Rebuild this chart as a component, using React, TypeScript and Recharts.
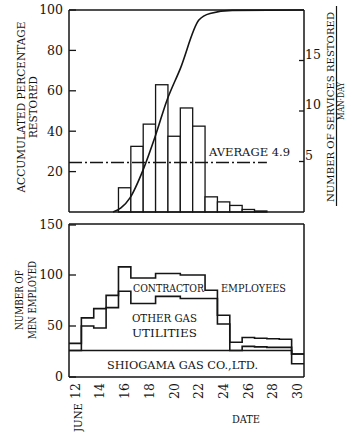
import React from 'react';
import { ComposedChart, Line, Bar, XAxis, YAxis, ReferenceLine } from 'recharts';

// June dates, one step per day on the bottom panel
const days = [12, 13, 14, 15, 16, 17, 18, 19, 20, 21, 22, 23, 24, 25, 26, 27, 28, 29, 30];
const dateTicks = [12, 14, 16, 18, 20, 22, 24, 26, 28, 30];

// number of services restored per man-day (bars, right axis)
const barDays = [16, 17, 18, 19, 20, 21, 22, 23, 24, 25, 26, 27];
const servicesPerManDay = [2.4, 6.5, 8.7, 12.6, 7.5, 10.3, 8.5, 1.5, 1.0, 0.65, 0.25, 0.1];
const averageRate = 4.9;

// accumulated percentage restored (curve, left axis)
const curveDates = [15.06, 15.7, 16.43, 17.5, 18.5, 19.4, 20.5, 22.0, 22.9, 24.7, 30.5];
const curvePct = [0, 2, 7, 21, 38, 55, 71, 95, 98.3, 99.8, 100];

// men employed: upper edge of each stacked band
const shiogama = [26, 26, 26, 26, 26, 26, 26, 26, 26, 26, 26, 26, 26, 26, 26, 26, 26, 26, 13];
const plusOtherGas = [26, 50, 48, 68, 84, 72, 72, 79, 79, 77, 77, 77, 52, 26, 30, 29.5, 29, 29, 22.6];
const plusContractors = [33, 58, 67, 80, 108, 97, 97, 101.5, 101.5, 100, 100, 85, 60.6, 34, 38.7, 38, 37.5, 37, 22.6];

const X_DOMAIN: [number, number] = [11.5, 30.5];
const PLOT_W = 235;
const dayWidth = PLOT_W / (X_DOMAIN[1] - X_DOMAIN[0]);

const INK = '#151515';
const label = { fontFamily: 'DejaVu Serif', fontSize: 11.5, fill: INK } as const;
const digits = { fontFamily: 'DejaVu Serif', fontSize: 12.5, fill: INK } as const;

const barRows = barDays.map((d, i) => ({ x: d, n: servicesPerManDay[i] }));
const curveRows = curveDates.map((d, i) => ({ x: d, pct: curvePct[i] }));

// step lines start at the left edge of each day; repeat the last day to close it
const menRows = days.map((d, i) => ({
  x: d - 0.5,
  shio: shiogama[i],
  other: plusOtherGas[i],
  contr: plusContractors[i],
}));
menRows.push({ ...menRows[menRows.length - 1], x: days[days.length - 1] + 0.5 });

const LeftTick = ({ x, y, payload }: any) => (
  <g>
    <line x1={x} y1={y} x2={x + 7} y2={y} stroke={INK} strokeWidth={1.3} />
    <text x={x - 6} y={y} dy="0.35em" textAnchor="end" style={digits}>{payload.value}</text>
  </g>
);

const RightTick = ({ x, y, payload }: any) => (
  <g>
    <line x1={x} y1={y} x2={x - 5} y2={y} stroke={INK} strokeWidth={1.3} />
    {payload.value === 0 ? (
      <text x={x + 14} y={y} dy="0.35em" style={digits}>0</text>
    ) : (
      <text x={x + 1} y={y - 6} dy="0.35em" style={digits}>{payload.value}</text>
    )}
  </g>
);

const DateTick = ({ x, y, payload }: any) => (
  <text x={x} y={y} dy="0.35em" textAnchor="end" transform={`rotate(-90, ${x}, ${y})`} style={digits}>
    {payload.value}
  </text>
);

// bars drawn a full day wide, centred where the library puts them
const DayBar = (p: any) => (
  <rect x={p.x + p.width / 2 - dayWidth / 2} y={p.y} width={dayWidth} height={Math.max(p.height, 0)}
    fill="#fff" stroke={INK} strokeWidth={1.3} />
);

// typewriter-style note stretched to the width it has in the original
const Note = ({ x, y, w, children, size = 11.5, vertical = false, anchor = 'start' }: any) => (
  <text x={x} y={y} dy={vertical ? '0.35em' : undefined} textAnchor={anchor}
    transform={vertical ? `rotate(-90, ${x}, ${y})` : undefined}
    textLength={w} lengthAdjust="spacingAndGlyphs" style={{ ...label, fontSize: size }}>
    {children}
  </text>
);

const frame = { stroke: INK, strokeWidth: 1.5, ifOverflow: 'visible' as const };

export default function App() {
  return (
    <div style={{ position: 'absolute', left: 0, top: 0, width: 346, height: 432, background: '#fff' }}>
      <div style={{ position: 'absolute', left: 0, top: 0 }}>
        <ComposedChart width={346} height={216} data={barRows} margin={{ top: 10, right: 0, bottom: 4, left: 0 }}>
          <XAxis dataKey="x" type="number" domain={X_DOMAIN} allowDataOverflow hide />
          <YAxis yAxisId="left" width={69} domain={[0, 100]} ticks={[0, 20, 40, 60, 80, 100]}
            axisLine={false} tickLine={false} tickSize={0} tickMargin={0} tick={<LeftTick />} />
          <YAxis yAxisId="right" orientation="right" width={42} domain={[0, 20]} ticks={[0, 5, 10, 15]}
            axisLine={false} tickLine={false} tickSize={0} tickMargin={0} tick={<RightTick />} />
          <Bar yAxisId="right" dataKey="n" shape={<DayBar />} isAnimationActive={false} />
          <ReferenceLine yAxisId="right" segment={[{ x: X_DOMAIN[0], y: averageRate }, { x: 27.5, y: averageRate }]}
            stroke={INK} strokeWidth={1.3} strokeDasharray="13 3 2 3" />
          <Line yAxisId="left" data={curveRows} dataKey="pct" type="monotone" stroke={INK} strokeWidth={1.6}
            dot={false} isAnimationActive={false} />
          <ReferenceLine yAxisId="left" y={0} {...frame} />
          <ReferenceLine yAxisId="left" y={100} {...frame} />
          <ReferenceLine yAxisId="left" x={X_DOMAIN[0]} {...frame} />
          <ReferenceLine yAxisId="left" x={X_DOMAIN[1]} {...frame} />
        </ComposedChart>
      </div>

      <div style={{ position: 'absolute', left: 0, top: 216 }}>
        <ComposedChart width={346} height={216} data={menRows} margin={{ top: 8, right: 42, bottom: 25, left: 0 }}>
          <XAxis dataKey="x" type="number" domain={X_DOMAIN} allowDataOverflow ticks={dateTicks} height={30}
            axisLine={false} tickLine={false} tickSize={0} tickMargin={6} tick={<DateTick />} />
          <YAxis width={69} domain={[0, 150]} ticks={[0, 50, 100, 150]}
            axisLine={false} tickLine={false} tickSize={0} tickMargin={0} tick={<LeftTick />} />
          <Line dataKey="shio" type="stepAfter" stroke={INK} strokeWidth={1.6} dot={false} isAnimationActive={false} />
          <Line dataKey="other" type="stepAfter" stroke={INK} strokeWidth={1.6} dot={false} isAnimationActive={false} />
          <Line dataKey="contr" type="stepAfter" stroke={INK} strokeWidth={1.6} dot={false} isAnimationActive={false} />
          <ReferenceLine y={0} {...frame} />
          <ReferenceLine y={150} {...frame} />
          <ReferenceLine x={X_DOMAIN[0]} {...frame} />
          <ReferenceLine x={X_DOMAIN[1]} {...frame} />
        </ComposedChart>
      </div>

      {/* titles and in-plot annotations */}
      <svg width={346} height={432} style={{ position: 'absolute', left: 0, top: 0, pointerEvents: 'none' }}>
        <Note vertical anchor="middle" x={21} y={107} w={171}>ACCUMULATED PERCENTAGE</Note>
        <Note vertical anchor="middle" x={33} y={107} w={62}>RESTORED</Note>
        <Note vertical anchor="middle" x={330} y={107} w={190} size={10}>NUMBER OF SERVICES RESTORED</Note>
        <line x1={336.5} y1={6} x2={336.5} y2={206} stroke={INK} strokeWidth={1.2} />
        <Note vertical anchor="middle" x={341} y={101} w={38} size={8.5}>MAN·DAY</Note>
        <Note vertical anchor="middle" x={19} y={300} w={60}>NUMBER OF</Note>
        <Note vertical anchor="middle" x={32} y={300} w={78}>MEN EMPLOYED</Note>
        <Note vertical x={78} y={432} w={29}>JUNE</Note>
        <Note x={232} y={423} w={28}>DATE</Note>
        <Note x={209} y={156} w={81}>AVERAGE 4.9</Note>
        <Note x={133} y={292} w={71}>CONTRACTOR</Note>
        <Note x={221} y={292} w={65}>EMPLOYEES</Note>
        <Note x={132} y={321.5} w={65}>OTHER GAS</Note>
        <Note x={132} y={336.5} w={65}>UTILITIES</Note>
        <Note x={107} y={369} w={151}>SHIOGAMA GAS CO.,LTD.</Note>
      </svg>
    </div>
  );
}
